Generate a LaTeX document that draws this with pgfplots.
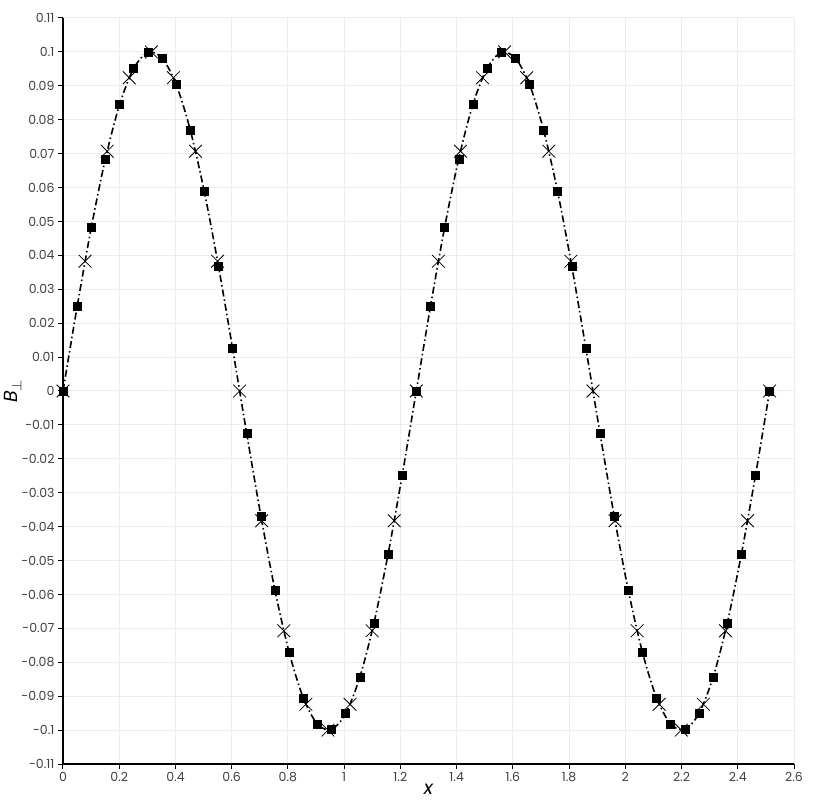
\documentclass[border=0pt]{standalone}
\usepackage{pgfplots}
\pgfplotsset{compat=1.18}
\usepackage{fontspec}
\setmainfont{Poppins}

\pgfplotstableread{
x y
0 0
0.05027 0.024869
0.10053 0.048175
0.15080 0.068455
0.20106 0.084433
0.25133 0.095106
0.30159 0.099803
0.35186 0.098229
0.40212 0.090483
0.45239 0.077051
0.50265 0.058779
0.55292 0.036812
0.60319 0.012533
0.65345 -0.012533
0.70372 -0.036812
0.75398 -0.058779
0.80425 -0.077051
0.85451 -0.090483
0.90478 -0.098229
0.95504 -0.099803
1.00531 -0.095106
1.05558 -0.084433
1.10584 -0.068455
1.15611 -0.048175
1.20637 -0.024869
1.25664 0
1.30690 0.024869
1.35717 0.048175
1.40743 0.068455
1.45770 0.084433
1.50796 0.095106
1.55823 0.099803
1.60850 0.098229
1.65876 0.090483
1.70903 0.077051
1.75929 0.058779
1.80956 0.036812
1.85982 0.012533
1.91009 -0.012533
1.96035 -0.036812
2.01062 -0.058779
2.06088 -0.077051
2.11115 -0.090483
2.16142 -0.098229
2.21168 -0.099803
2.26195 -0.095106
2.31221 -0.084433
2.36248 -0.068455
2.41274 -0.048175
2.46301 -0.024869
2.51327 0
}\squares

\pgfplotstableread{
x y
0 0
0.07854 0.038268
0.15708 0.070711
0.23562 0.092388
0.31416 0.1
0.39270 0.092388
0.47124 0.070711
0.54978 0.038268
0.62832 0
0.70686 -0.038268
0.78540 -0.070711
0.86394 -0.092388
0.94248 -0.1
1.02102 -0.092388
1.09956 -0.070711
1.17810 -0.038268
1.25664 0
1.33518 0.038268
1.41372 0.070711
1.49226 0.092388
1.57080 0.1
1.64934 0.092388
1.72788 0.070711
1.80642 0.038268
1.88496 0
1.96350 -0.038268
2.04204 -0.070711
2.12058 -0.092388
2.19911 -0.1
2.27765 -0.092388
2.35619 -0.070711
2.43473 -0.038268
2.51327 0
}\crosses

\begin{document}
\begin{tikzpicture}
\begin{axis}[
    width=731pt, height=746pt,
    scale only axis,
    xmin=0, xmax=2.6,
    ymin=-0.11, ymax=0.11,
    axis x line*=bottom,
    axis y line*=left,
    x axis line style={-, line width=1.2pt},
    y axis line style={-, line width=1.2pt},
    tick align=outside,
    major tick length=5pt,
    tick style={black, line width=1pt},
    xtick={0,0.2,0.4,0.6,0.8,1,1.2,1.4,1.6,1.8,2,2.2,2.4,2.6},
    ytick={-0.11,-0.1,-0.09,-0.08,-0.07,-0.06,-0.05,-0.04,-0.03,-0.02,-0.01,0,0.01,0.02,0.03,0.04,0.05,0.06,0.07,0.08,0.09,0.1,0.11},
    scaled x ticks=false,
    scaled y ticks=false,
    /pgf/number format/.cd, fixed, precision=2, assume math mode=true,
    /pgfplots/.cd,
    ticklabel style={font=\fontsize{12.5pt}{14pt}\selectfont, text=black!75},
    grid=major,
    grid style={color=black!7, line width=1pt},
    xlabel={\itshape x},
    ylabel={{\itshape B}$_{\perp}$},
    label style={font=\fontsize{19pt}{21pt}\selectfont},
    xlabel style={yshift=5pt},
    ylabel style={yshift=-7pt},
]
\addplot[black, line width=1.6pt, smooth,
    dash pattern=on 7pt off 3pt on 1.5pt off 3pt] table[x=x,y=y] {\squares};
\addplot[only marks, mark=square*, mark size=4pt, black] table[x=x,y=y] {\squares};
\addplot[only marks, mark=x, mark size=9pt, black, mark options={line width=0.8pt}] table[x=x,y=y] {\crosses};
\end{axis}
\pgfresetboundingbox
\path (-63pt,-42pt) rectangle (751pt,764pt);
\end{tikzpicture}
\end{document}
